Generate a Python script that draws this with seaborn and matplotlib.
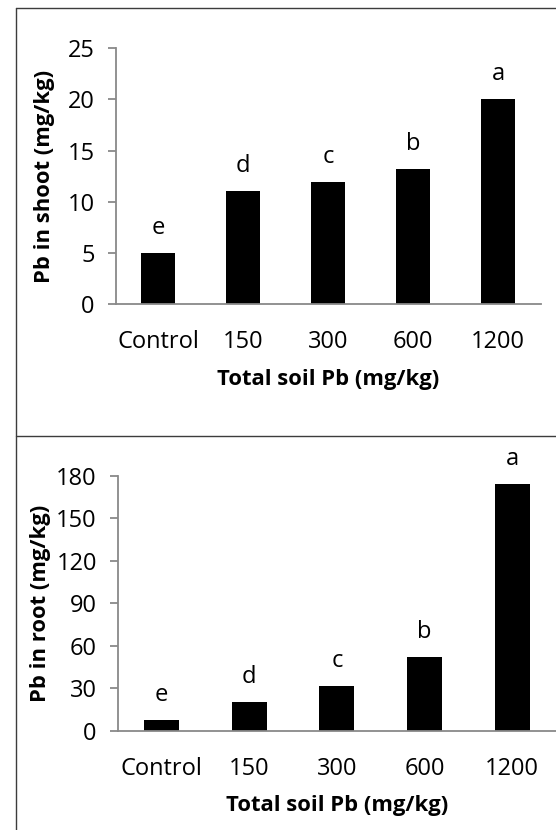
import matplotlib
matplotlib.use("Agg")
import matplotlib.pyplot as plt
import seaborn as sns
import pandas as pd
from matplotlib.lines import Line2D

categories = ["Control", "150", "300", "600", "1200"]
shoot_pb = [5.0, 11.0, 11.9, 13.2, 20.0]
root_pb = [8.0, 20.4, 31.7, 52.2, 174.0]
shoot_letters = ["e", "d", "c", "b", "a"]
root_letters = ["e", "d", "c", "b", "a"]
shoot_ticks = [0, 5, 10, 15, 20, 25]
root_ticks = [0, 30, 60, 90, 120, 150, 180]

sns.set_theme(style="white")
plt.rcParams["font.family"] = ["Open Sans", "DejaVu Sans"]

W, H = 556, 830
fig = plt.figure(figsize=(W / 100, H / 100), dpi=100)

AX_GRAY = "#898989"
FS = 17
LFS = 15.8


def px_ax(left, right, top, bottom):
    return [left / W, 1 - bottom / H, (right - left) / W, (bottom - top) / H]


def panel(rect, values, letters, ticks, ylabel, ylab_x, xlab_y):
    ax = fig.add_axes(rect)
    df = pd.DataFrame({"cat": categories, "val": values})
    sns.barplot(data=df, x="cat", y="val", order=categories, color="black",
                saturation=1, width=0.4, ax=ax, edgecolor="black", linewidth=0)
    ax.set_xlim(-0.5, len(categories) - 0.5)
    ax.set_ylim(ticks[0], ticks[-1])
    ax.set_yticks(ticks)
    ax.set_yticklabels([str(t) for t in ticks])
    for s in ["top", "right"]:
        ax.spines[s].set_visible(False)
    for s in ["left", "bottom"]:
        ax.spines[s].set_color(AX_GRAY)
        ax.spines[s].set_linewidth(1.3)
    ax.tick_params(axis="y", direction="out", length=6, width=1.3, color=AX_GRAY,
                   pad=9, labelsize=FS, labelcolor="black", left=True)
    ax.tick_params(axis="x", length=0, pad=19, labelsize=FS, labelcolor="black")
    ax.set_ylabel(ylabel, fontsize=LFS, fontweight="bold", color="black")
    ax.yaxis.set_label_coords(ylab_x, 0.5)
    ax.yaxis.label.set_va("center")
    ax.set_xlabel("Total soil Pb (mg/kg)", fontsize=LFS, fontweight="bold", color="black")
    ax.xaxis.set_label_coords(0.5, xlab_y)
    ax.xaxis.label.set_va("center")
    for patch, letter in zip(ax.patches, letters):
        cx = patch.get_x() + patch.get_width() / 2
        ax.annotate(letter, xy=(cx, patch.get_height()), xytext=(0, 19 * 0.72),
                    textcoords="offset points", ha="center", va="baseline",
                    fontsize=FS, color="black", annotation_clip=False)
    ax.patch.set_alpha(0)
    return ax


panel(px_ax(115.7, 540.7, 48.3, 304), shoot_pb, shoot_letters, shoot_ticks,
      "Pb in shoot (mg/kg)", -0.168, -0.297)
panel(px_ax(117.7, 556, 475.7, 731), root_pb, root_letters, root_ticks,
      "Pb in root (mg/kg)", -0.177, -0.29)

BORDER = "#3c3c3c"
lx = 15.7 / W
fig.add_artist(Line2D([lx, 1], [1 - 8 / H, 1 - 8 / H], color=BORDER, lw=1.0, transform=fig.transFigure))
fig.add_artist(Line2D([lx, lx], [0, 1 - 8 / H], color=BORDER, lw=1.0, transform=fig.transFigure))
fig.add_artist(Line2D([lx, 1], [1 - 435.5 / H, 1 - 435.5 / H], color=BORDER, lw=1.0, transform=fig.transFigure))

fig.savefig("out.png", dpi=100, facecolor="white")
